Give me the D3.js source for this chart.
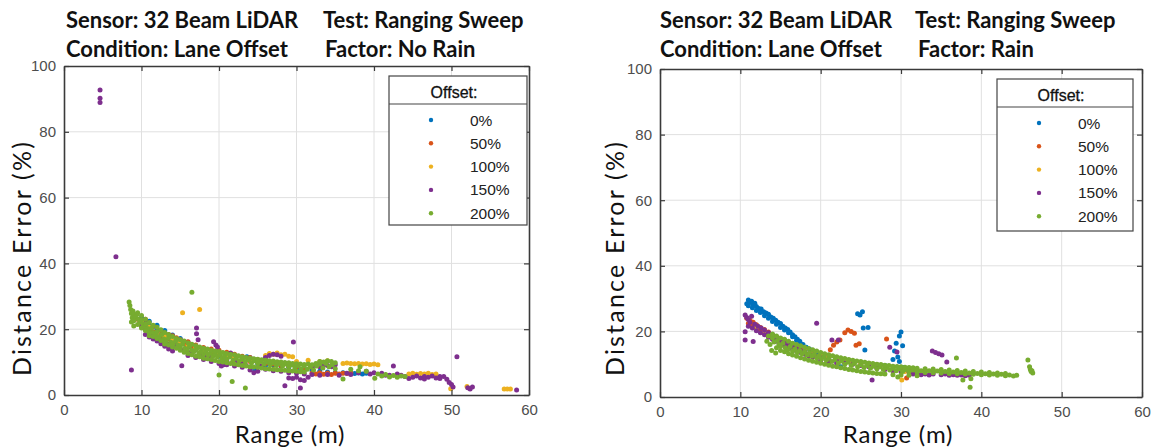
<!DOCTYPE html>
<html>
<head>
<meta charset="utf-8">
<script src="https://cdn.jsdelivr.net/npm/d3@7"></script>
<style>
body { margin: 0; background: #fff; }
svg { display: block; }
</style>
</head>
<body>
<svg id="chart" width="1152" height="448"></svg>
<script>
// legend entries and colours (MATLAB default order)
var offsets = ["0%", "50%", "100%", "150%", "200%"];
var colors = ["#0072bd", "#d95319", "#edb120", "#7e2f8e", "#77ac30"];
var xTicks = [0, 10, 20, 30, 40, 50, 60];
var yTicks = [0, 20, 40, 60, 80, 100];

// --- No Rain, flat x,y pairs (range m, error %) ---
var noRain0 = [10.0,23.5, 10.5,22.0, 11.0,21.2, 11.5,20.8, 12.0,20.0, 12.5,19.2, 13.0,18.0, 13.5,17.2, 14.0,16.8, 15.0,15.8,
  16.0,14.6, 17.0,13.8, 18.0,13.0, 19.0,12.2, 20.0,11.8, 21.0,11.0, 22.0,10.6, 23.0,11.2, 23.6,11.6, 24.0,11.4, 24.6,7.6,
  25.0,9.4, 26.0,9.0, 27.0,9.2, 28.0,8.8, 29.0,8.4, 30.0,8.0, 31.0,7.6, 32.0,7.4, 33.0,7.2, 34.0,7.0, 35.0,6.8, 36.0,6.8,
  37.0,6.7, 37.5,6.5, 38.0,6.7, 38.5,6.4, 39.0,6.6,
  11.0,22.4, 12.0,21.2, 13.0,19.6, 14.0,18.2, 15.0,17.2, 16.0,16.0, 17.0,15.0, 18.0,14.2, 20.0,12.8, 22.0,12.0];
var noRain50 = [9.5,23.0, 10.0,21.8, 10.5,21.0, 11.0,20.0, 11.5,19.2, 12.0,18.6, 12.5,18.0, 13.0,17.6, 13.5,17.0, 14.0,16.2,
  14.5,17.4, 15.0,16.8, 15.5,15.6, 16.0,15.0, 16.5,14.4, 17.0,14.0, 18.0,13.4, 19.0,13.0, 20.0,12.6, 21.0,12.0, 22.0,11.4,
  23.0,10.8, 24.0,10.2, 25.0,10.0, 26.0,9.6, 27.0,9.4, 28.0,9.0, 29.0,8.8, 30.0,8.6, 31.0,7.8, 32.0,6.6, 32.5,6.4, 33.0,6.8,
  33.5,6.3, 34.0,6.7, 34.5,6.2, 35.0,6.6, 35.5,6.4, 36.0,6.6, 36.5,6.5, 37.0,6.7,
  10.5,23.0, 11.5,21.0, 12.5,19.6, 13.5,18.4, 14.0,18.0, 15.0,16.0, 16.0,16.2, 17.0,15.2, 18.0,14.4, 19.0,14.0, 20.0,13.6,
  21.0,13.0, 22.0,12.4, 23.0,11.8, 24.0,11.4, 25.0,10.8];
var noRain100 = [10.0,22.5, 11.0,20.6, 12.0,19.0, 13.0,17.8, 14.0,16.9, 15.0,15.9, 15.3,25.0, 17.5,26.0, 16.0,15.2, 17.0,14.4,
  18.0,13.8, 19.0,13.4, 20.0,13.0, 21.0,12.2, 22.0,11.6, 23.0,11.0, 24.0,10.6, 25.0,10.6, 26.0,12.0, 26.5,12.6, 27.0,12.4,
  27.5,12.8, 28.0,12.2, 28.5,12.4, 29.0,11.8, 29.5,11.6, 30.0,10.2, 31.5,10.6, 33.0,10.2, 34.0,10.4, 36.0,9.6, 36.5,9.7,
  37.0,9.6, 37.5,9.5, 38.0,9.6, 38.5,9.4, 39.0,9.5, 39.5,9.3, 40.0,9.4, 40.5,9.2, 44.5,6.4, 45.0,6.6, 45.5,6.3, 46.0,6.5,
  46.5,6.4, 47.0,6.6, 47.5,6.2, 48.0,6.4, 49.9,1.9, 52.0,2.6, 56.8,1.8, 57.2,1.8, 57.6,1.8];
var noRain150 = [4.65,92.7, 4.65,90.2, 4.65,88.9, 6.7,42.0, 8.7,7.6, 10.0,21.0, 10.5,20.0, 11.0,19.0, 11.5,18.2, 12.0,17.4,
  12.5,16.6, 13.0,16.0, 13.5,15.4, 14.0,14.6, 14.5,15.2, 15.0,14.0, 15.2,8.9, 15.5,13.6, 16.0,13.0, 16.5,12.6, 17.1,20.4,
  17.1,18.6, 17.3,16.8, 17.5,12.4, 18.0,12.0, 18.5,11.6, 19.0,11.4, 19.3,16.2, 19.6,15.2, 19.8,14.6, 20.0,9.6, 20.3,8.8,
  20.6,9.2, 21.0,10.4, 21.5,12.8, 22.0,10.0, 22.5,9.6, 23.0,9.4, 23.5,9.0, 24.0,7.6, 24.5,6.8, 25.0,7.2, 25.5,8.8, 26.0,11.4,
  26.5,12.0, 27.0,12.4, 27.5,12.2, 28.0,11.8, 28.5,2.8, 29.0,5.2, 29.6,16.1, 29.5,5.0, 30.0,5.4, 30.5,2.1, 30.5,4.6, 31.0,4.4,
  31.5,5.4, 32.0,8.4, 32.5,9.0, 33.0,8.6, 33.5,9.2, 34.0,9.0, 34.5,8.6, 35.0,9.2, 33.0,6.0, 34.0,6.2, 36.5,6.6, 38.0,6.8,
  39.0,7.2, 40.0,6.8, 41.0,6.6, 42.0,6.0, 42.5,8.8, 43.0,6.4, 43.5,6.0, 44.0,5.6, 45.0,5.4, 45.5,5.8, 46.0,5.2, 46.5,5.6,
  47.0,5.4, 47.5,5.8, 48.0,5.2, 48.5,5.6, 49.0,5.6, 49.4,4.8, 49.7,3.8, 50.0,3.2, 50.2,2.4, 50.7,11.6, 52.1,2.2, 52.4,1.8,
  52.7,2.4, 58.4,1.5,
  10.5,18.4, 11.0,17.6, 11.5,17.0, 12.0,16.4, 12.5,15.6, 13.0,14.8, 13.5,14.0, 14.0,13.4, 16.0,12.0, 17.0,11.4, 18.0,10.8,
  19.0,10.2, 21.0,9.2, 22.0,8.8, 23.0,8.4, 26.0,7.8, 27.0,7.4, 28.0,7.2, 29.0,6.8, 30.0,6.6, 31.0,6.4, 32.0,6.2, 35.5,6.0,
  37.0,6.2, 39.5,6.4, 41.5,6.0, 44.5,5.0, 46.5,4.9, 48.5,5.0];
var noRain200 = [8.4,28.3, 8.5,27.2, 8.6,26.0, 8.7,24.8, 8.8,23.5, 8.9,25.5, 9.0,24.6, 9.2,23.8, 9.4,24.5, 9.6,23.0, 9.8,22.2,
  10.0,22.8, 10.2,21.5, 10.4,20.8, 10.6,21.6, 10.8,20.2, 11.0,19.6, 11.3,20.4, 11.5,19.0, 11.8,18.2, 12.0,19.2, 12.3,17.8,
  12.6,18.4, 12.9,17.0, 13.2,16.5, 13.5,17.4, 13.8,16.0, 14.1,15.6, 14.4,16.4, 14.7,15.2, 15.0,14.6, 15.3,15.5, 15.6,14.2,
  15.9,13.8, 16.2,14.8, 16.5,13.6, 16.8,13.2, 17.1,14.0, 17.4,12.8, 17.7,13.4, 18.0,12.5, 18.3,13.2, 18.6,12.2, 18.9,12.8,
  19.2,11.8, 19.5,12.5, 19.8,11.6, 20.1,12.2, 20.4,11.2, 20.7,11.8, 21.0,10.9, 21.4,11.6, 21.8,10.6, 22.2,11.2, 22.6,10.4,
  23.0,10.9, 23.4,10.1, 23.8,10.7, 24.2,9.8, 24.6,10.4, 25.0,9.6, 25.4,10.2, 25.8,9.4, 26.2,10.0, 26.6,9.2, 27.0,9.8, 27.4,9.0,
  27.8,9.6, 28.2,8.8, 28.6,9.4, 29.0,8.6, 29.4,9.2, 29.8,8.4, 30.2,9.0, 30.6,8.0, 31.0,8.8, 31.4,7.8, 31.8,8.6, 32.2,7.6,
  32.6,8.8, 33.0,9.4, 33.4,8.2, 33.8,9.6, 34.2,8.6, 34.6,9.2, 35.0,8.0, 36.0,4.9, 37.0,7.8, 38.0,7.4, 38.2,8.6, 39.0,7.2,
  40.1,5.1, 40.5,6.4, 41.0,5.8, 41.5,6.2, 42.0,5.5, 42.5,5.9, 43.0,5.4, 43.5,5.8, 44.0,5.6, 16.5,31.2, 20.0,6.1, 21.7,4.1,
  23.4,2.1, 9.0,21.0, 8.7,22.2, 11.0,18.0, 13.0,15.5,
  9.5,25.0, 10.0,24.2, 10.5,23.0, 11.0,22.0, 11.5,21.2, 12.0,20.6, 12.5,19.8, 13.0,19.0, 13.5,18.4, 14.0,17.8, 14.5,17.2,
  15.0,16.8, 15.5,16.4, 16.0,15.8, 16.5,15.4, 17.0,15.0, 17.5,14.6, 18.0,14.2, 18.5,14.0, 19.0,13.6, 19.5,13.4, 20.0,13.2,
  20.5,12.9, 21.0,12.6, 21.5,12.4, 22.0,12.2, 22.5,11.9, 23.0,11.6, 23.5,11.4, 24.0,11.2, 24.5,11.0, 25.0,10.9, 25.5,10.7,
  26.0,10.6, 26.5,10.4, 27.0,10.3, 27.5,10.1, 28.0,10.0, 28.5,9.9, 29.0,9.8, 29.5,9.6, 30.0,9.5, 30.5,9.4, 31.0,9.3,
  31.5,9.4, 32.0,9.2, 32.5,9.6, 33.0,10.2, 33.5,10.0, 34.0,10.4, 34.5,10.2, 35.0,9.8,
  9.0,22.6, 9.5,21.4, 10.0,20.4, 10.5,19.6, 11.0,18.8, 11.5,17.8, 12.0,17.2, 12.5,16.6, 13.0,15.8, 13.5,15.2, 14.0,14.6,
  14.5,14.2, 15.0,13.6, 15.5,13.0, 16.0,12.6, 16.5,12.2, 17.0,11.8, 17.5,11.6, 18.0,11.2, 18.5,11.0, 19.0,10.8, 19.5,10.5,
  20.0,10.2, 20.5,10.0, 21.0,9.8, 21.5,9.6, 22.0,9.4, 22.5,9.2, 23.0,9.0, 23.5,8.8, 24.0,8.6, 24.5,8.5, 25.0,8.4, 25.5,8.2,
  26.0,8.0, 26.5,7.9, 27.0,7.8, 27.5,7.7, 28.0,7.6, 28.5,7.5, 29.0,7.4, 29.5,7.3, 30.0,7.2, 30.5,7.1, 31.0,7.0];

// --- Rain ---
var rain0 = [10.8,28.4, 11.0,29.6, 11.2,28.8, 11.4,29.2, 11.6,28.0, 11.8,28.6, 12.0,27.6, 12.3,27.0, 12.6,26.8, 12.9,26.0,
  13.2,25.6, 13.5,25.2, 13.8,24.4, 14.1,24.0, 14.4,23.4, 14.7,22.8, 15.0,22.4, 15.3,21.6, 15.6,21.0, 15.9,20.6, 16.2,19.8,
  16.5,19.0, 16.8,18.4, 17.1,17.6, 17.4,17.0, 17.8,16.0, 18.2,15.2, 18.6,14.6, 19.0,14.0, 19.5,13.2, 20.0,12.4, 21.0,11.6,
  22.0,11.0, 22.5,9.2, 23.0,10.6, 24.0,10.2, 24.6,25.4, 24.9,25.0, 25.2,26.0, 25.3,21.0, 25.9,21.2, 25.5,14.3, 26.0,10.0,
  27.0,9.8, 28.0,9.6, 29.0,11.4, 29.2,14.0, 29.4,16.4, 29.6,12.2, 29.8,18.6, 30.0,19.8, 30.2,15.6, 29.8,10.8, 30.4,9.0,
  11.0,27.8, 11.5,27.2, 12.0,26.4, 12.5,25.8, 13.0,24.8, 13.5,24.0, 14.0,23.0, 14.5,22.2, 15.0,21.2, 15.5,20.4, 16.0,19.6,
  16.5,18.4, 17.0,17.2, 17.5,16.2];
var rain50 = [10.8,24.0, 11.2,23.4, 11.6,22.8, 12.0,22.0, 12.5,21.2, 13.0,20.6, 13.5,19.8, 14.0,19.0, 14.5,18.4, 15.0,17.8,
  15.5,17.2, 16.0,16.6, 16.5,16.0, 17.0,15.6, 17.5,15.0, 18.0,14.6, 19.0,13.8, 20.0,13.0, 21.2,14.4, 21.6,15.8, 22.0,16.8,
  22.4,17.4, 21.0,12.4, 22.0,11.8, 23.0,19.6, 23.4,20.4, 23.8,20.0, 24.2,19.4, 24.4,15.8, 24.8,16.2, 23.0,11.2, 24.0,10.8,
  25.0,10.4, 26.0,10.2, 27.0,9.8, 28.2,17.7, 28.0,9.4, 29.0,9.2, 30.0,8.8, 30.7,5.8, 31.0,8.4, 32.0,8.2, 33.0,8.0, 34.0,7.8,
  11.0,22.4, 11.5,21.8, 12.0,21.2, 12.5,20.4, 13.0,19.6, 13.5,19.0, 14.0,18.2, 14.5,17.6, 15.0,17.0, 16.0,15.8, 17.0,14.6,
  18.0,13.6];
var rain100 = [12.0,21.4, 13.0,20.0, 14.0,18.6, 15.0,17.4, 16.0,16.2, 17.0,15.2, 18.0,14.2, 19.0,13.4, 20.0,12.6, 21.0,12.0,
  22.0,11.4, 23.0,10.8, 24.0,10.4, 25.0,10.0, 26.0,9.6, 27.0,9.2, 28.0,8.8, 29.0,8.4, 30.1,5.2, 30.5,7.8, 31.5,8.0];
var rain150 = [10.6,25.0, 10.8,24.2, 11.0,23.6, 11.2,22.8, 11.4,24.6, 10.6,19.9, 10.6,17.4, 11.6,16.9, 11.8,22.2, 12.2,21.6,
  12.6,21.0, 13.0,20.4, 13.5,19.6, 14.0,18.8, 14.5,18.0, 15.0,17.4, 15.5,16.8, 16.0,16.0, 16.5,15.4, 17.0,14.8, 17.5,14.2,
  18.0,13.8, 18.5,13.2, 19.0,12.8, 19.5,22.5, 19.5,12.4, 20.0,12.0, 21.0,11.4, 21.4,17.4, 22.2,17.4, 22.0,11.0, 23.0,10.4,
  24.0,10.0, 25.0,9.6, 26.0,9.2, 26.4,5.2, 27.0,8.8, 28.0,8.4, 28.6,15.2, 29.0,8.0, 29.5,13.7, 30.0,7.8, 31.0,7.6, 31.5,7.0,
  32.0,7.2, 32.5,6.8, 33.0,7.0, 33.5,6.7, 33.9,14.0, 34.3,13.6, 34.7,13.2, 35.1,12.8, 35.7,10.7, 34.0,7.0, 35.0,6.8, 35.5,7.0,
  36.0,6.6, 36.5,6.8, 37.0,6.6, 37.5,6.7, 38.0,6.5, 38.5,6.6,
  11.0,21.6, 11.5,21.0, 12.0,20.2, 12.5,19.6, 13.0,19.0, 13.5,18.2, 14.0,17.6, 14.5,17.0, 15.0,16.2, 15.5,15.8, 16.0,15.2,
  16.5,14.6, 17.0,14.0, 17.5,13.6, 18.0,13.0, 18.5,12.6, 19.0,12.2, 20.0,11.2, 21.0,10.6, 22.0,10.2];
var rain200 = [13.3,17.0, 13.5,18.6, 13.7,16.0, 13.9,14.2, 14.0,18.0, 14.2,16.8, 14.4,13.4, 14.6,17.2, 14.8,16.0, 15.0,15.4,
  15.3,16.4, 15.6,15.0, 15.9,14.4, 16.2,15.4, 16.5,14.0, 16.8,14.6, 17.1,13.6, 17.4,14.2, 17.7,13.2, 18.0,13.8, 18.3,12.8,
  18.6,13.4, 18.9,12.4, 19.2,13.0, 19.5,12.0, 19.8,12.6, 20.1,11.6, 20.4,12.3, 20.7,11.2, 21.0,11.8, 21.4,10.8, 21.8,11.4,
  22.2,10.4, 22.6,11.0, 23.0,10.0, 23.4,10.6, 23.8,9.6, 24.2,10.2, 24.6,9.2, 25.0,9.8, 25.4,9.0, 25.8,9.6, 26.2,8.8, 26.6,9.4,
  27.0,8.6, 27.4,9.2, 27.8,8.4, 28.2,9.0, 28.6,8.2, 29.0,8.8, 29.4,8.0, 29.6,6.1, 29.8,8.6, 30.2,7.8, 30.6,8.4, 31.0,7.8,
  31.5,8.2, 32.0,7.6, 32.5,8.0, 33.0,7.5, 33.5,8.0, 34.0,7.4, 34.5,7.9, 35.0,7.3, 35.5,7.8, 36.0,7.2, 36.5,7.6, 36.9,11.9,
  37.0,7.1, 37.5,7.5, 37.7,5.2, 38.0,7.0, 38.6,3.0, 38.7,5.6, 38.5,7.3, 39.0,6.9, 39.5,7.2, 40.0,6.8, 40.5,7.1, 41.0,6.7,
  41.5,7.0, 42.0,6.6, 42.5,6.9, 43.0,6.5, 43.5,6.7, 44.0,6.4, 44.4,6.6, 45.8,11.3, 46.0,9.2, 46.1,8.4, 46.2,7.8, 46.4,7.3,
  46.3,8.0,
  14.0,19.2, 14.5,18.6, 15.0,18.0, 15.5,17.6, 16.0,17.0, 16.5,16.4, 17.0,16.0, 17.5,15.6, 18.0,15.2, 18.5,14.8, 19.0,14.4,
  19.5,14.0, 20.0,13.6, 20.5,13.2, 21.0,12.9, 21.5,12.6, 22.0,12.3, 22.5,12.0, 23.0,11.7, 23.5,11.4, 24.0,11.2, 24.5,11.0,
  25.0,10.8, 25.5,10.6, 26.0,10.4, 26.5,10.2, 27.0,10.0, 27.5,9.9, 28.0,9.7, 28.5,9.6, 29.0,9.4, 29.5,9.3, 30.0,9.2,
  30.5,9.1, 31.0,9.0, 31.5,8.9, 32.0,8.8, 33.0,8.6, 34.0,8.5, 35.0,8.4, 36.0,8.2, 37.0,8.1, 38.0,7.9, 39.0,7.8, 40.0,7.6,
  41.0,7.5, 42.0,7.3, 43.0,7.2,
  14.5,15.0, 15.0,14.2, 15.5,13.8, 16.0,13.2, 16.5,12.8, 17.0,12.4, 17.5,12.0, 18.0,11.6, 18.5,11.2, 19.0,10.9, 19.5,10.6,
  20.0,10.3, 20.5,10.0, 21.0,9.7, 21.5,9.4, 22.0,9.2, 22.5,8.9, 23.0,8.7, 23.5,8.4, 24.0,8.2, 24.5,8.0, 25.0,7.8, 25.5,7.6,
  26.0,7.5, 26.5,7.3, 27.0,7.2, 27.5,7.1, 28.0,7.0, 29.0,6.8, 30.0,6.7, 31.0,6.6, 32.0,6.5];

var titles = [
  ["Sensor: 32 Beam LiDAR", "Test: Ranging Sweep", "Condition: Lane Offset", "Factor: No Rain"],
  ["Sensor: 32 Beam LiDAR", "Test: Ranging Sweep", "Condition: Lane Offset", "Factor: Rain"]
];

// turn a flat [x,y,x,y...] list into point objects
function pairs(arr) {
	var out = [];
	for (var i = 0; i < arr.length; i += 2) out.push({x: arr[i], y: arr[i + 1]});
	return out;
}

var svg = d3.select("#chart");
var tf = "Lato, sans-serif";
var af = "Liberation Sans, Arial, sans-serif";

function drawPanel(p) {
	var x = d3.scaleLinear().domain([0, 60]).range([p.left, p.right]);
	var y = d3.scaleLinear().domain([0, 100]).range([p.bottom, p.top]);
	var g = svg.append("g");

	// grid
	g.append("g").selectAll("line").data(xTicks.slice(1, -1)).enter().append("line")
		.attr("x1", d => x(d)).attr("x2", d => x(d)).attr("y1", p.top).attr("y2", p.bottom)
		.attr("stroke", "#e0e0e0").attr("stroke-width", 1);
	g.append("g").selectAll("line").data(yTicks.slice(1, -1)).enter().append("line")
		.attr("y1", d => y(d)).attr("y2", d => y(d)).attr("x1", p.left).attr("x2", p.right)
		.attr("stroke", "#e0e0e0").attr("stroke-width", 1);

	// points, series in legend order so green ends on top
	p.series.forEach(function(s, i) {
		g.append("g").attr("fill", colors[i])
			.selectAll("circle").data(pairs(s)).enter().append("circle")
			.attr("cx", d => x(d.x)).attr("cy", d => y(d.y)).attr("r", 2.5);
	});

	// axes (matlab style: ticks inside, on all four sides)
	var tk = 5;
	g.append("g").attr("transform", `translate(0,${p.bottom})`)
		.call(d3.axisBottom(x).tickValues(xTicks).tickSizeInner(-tk).tickSizeOuter(0).tickPadding(9));
	g.append("g").attr("transform", `translate(${p.left},0)`)
		.call(d3.axisLeft(y).tickValues(yTicks).tickSizeInner(-tk).tickSizeOuter(0).tickPadding(8));
	g.append("g").attr("transform", `translate(0,${p.top})`)
		.call(d3.axisTop(x).tickValues(xTicks).tickSizeInner(-tk).tickSizeOuter(0).tickFormat(""));
	g.append("g").attr("transform", `translate(${p.right},0)`)
		.call(d3.axisRight(y).tickValues(yTicks).tickSizeInner(-tk).tickSizeOuter(0).tickFormat(""));
	g.selectAll(".domain").attr("stroke", "#3a3a3a").attr("stroke-width", 1.6);
	g.selectAll(".tick line").attr("stroke", "#3a3a3a").attr("stroke-width", 1.2);
	g.selectAll(".tick text").attr("font-family", af).attr("font-size", 15).attr("fill", "#4d4d4d");

	// titles
	[[p.tx1, 28], [p.tx2, 28], [p.tx1, 57], [p.tx3, 57]].forEach(function(pos, i) {
		svg.append("text").attr("x", pos[0]).attr("y", pos[1])
			.attr("font-family", tf).attr("font-weight", "bold").attr("font-size", 22)
			.attr("fill", "#111").text(p.titles[i]);
	});

	// axis labels
	svg.append("text").attr("transform", `translate(${p.ylabX},${p.ylabY}) rotate(-90)`)
		.attr("text-anchor", "middle").attr("font-family", tf).attr("font-size", 25)
		.attr("letter-spacing", 2.2).attr("fill", "#111").text("Distance Error (%)");
	svg.append("text").attr("x", p.xlabX).attr("y", 443)
		.attr("text-anchor", "middle").attr("font-family", tf).attr("font-size", 24)
		.attr("letter-spacing", 0.8).attr("fill", "#111").text("Range (m)");

	// legend
	var L = p.legend;
	var lg = svg.append("g");
	lg.append("rect").attr("x", L.x).attr("y", L.y).attr("width", L.w).attr("height", L.h)
		.attr("fill", "#fff").attr("stroke", "#444").attr("stroke-width", 1.2);
	lg.append("line").attr("x1", L.x).attr("x2", L.x + L.w).attr("y1", L.y + 28).attr("y2", L.y + 28)
		.attr("stroke", "#444").attr("stroke-width", 1.2);
	lg.append("text").attr("x", L.x + L.w / 2 - 4).attr("y", L.y + 22).attr("text-anchor", "middle")
		.attr("font-family", af).attr("font-size", 16)
		.attr("fill", "#111").attr("stroke", "#111").attr("stroke-width", 0.3).text("Offset:");
	offsets.forEach(function(o, i) {
		var cy = L.y + 44 + i * 23.3;
		lg.append("circle").attr("cx", L.x + 42).attr("cy", cy).attr("r", 2.2).attr("fill", colors[i]);
		lg.append("text").attr("x", L.x + 81).attr("y", cy + 5.5)
			.attr("font-family", af).attr("font-size", 15.5).attr("fill", "#222").text(o);
	});
}

drawPanel({
	left: 64, right: 529, top: 66, bottom: 395,
	tx1: 66, tx2: 323, tx3: 325, ylabX: 31, ylabY: 258, xlabX: 290,
	titles: titles[0],
	legend: {x: 389, y: 76, w: 138, h: 149},
	series: [noRain0, noRain50, noRain100, noRain150, noRain200]
});
drawPanel({
	left: 660, right: 1142, top: 69, bottom: 397,
	tx1: 660, tx2: 915, tx3: 918, ylabX: 624, ylabY: 258, xlabX: 898,
	titles: titles[1],
	legend: {x: 997, y: 79, w: 136, h: 152},
	series: [rain0, rain50, rain100, rain150, rain200]
});
</script>
</body>
</html>
